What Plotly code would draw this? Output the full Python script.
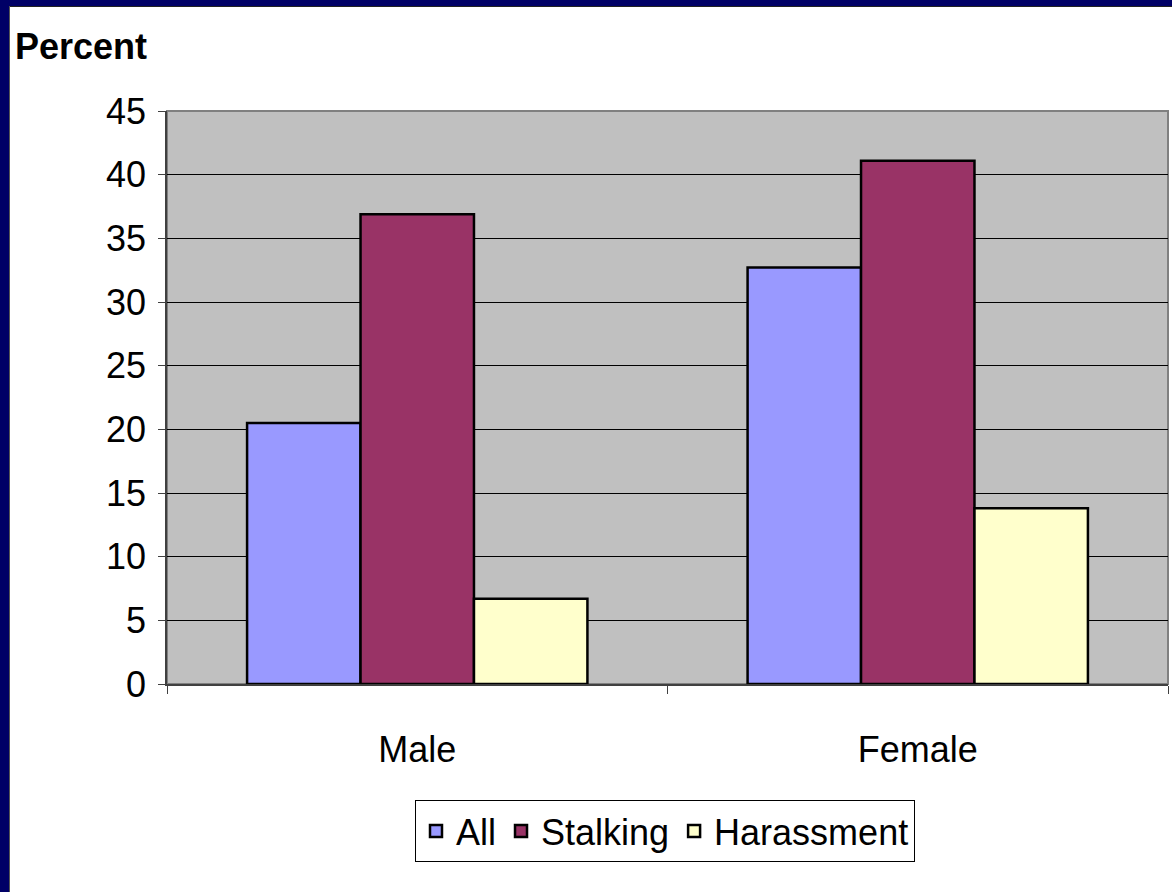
import plotly.graph_objects as go

categories = ["Male", "Female"]
series_names = ["All", "Stalking", "Harassment"]
all_vals = [20.5, 32.7]
stalking_vals = [36.9, 41.1]
harassment_vals = [6.7, 13.8]
colors = ["#9999FF", "#993366", "#FFFFCC"]
y_ticks = [0, 5, 10, 15, 20, 25, 30, 35, 40, 45]

W, H = 1172, 892
L, R, T, B = 167, 4, 111, 208
pw = W - L - R
ph = H - T - B

FONT = "Liberation Sans, Arial, sans-serif"

fig = go.Figure()
for name, vals, col in zip(series_names, [all_vals, stalking_vals, harassment_vals], colors):
    fig.add_trace(go.Bar(
        x=categories, y=vals, name=name,
        marker=dict(color=col, line=dict(color="black", width=2.5)),
    ))

def px_x(p):
    return (p - L) / pw

def px_y(p):
    return (H - B - p) / ph

shapes = [
    # navy slide border (top and left)
    dict(type="rect", xref="paper", yref="paper", x0=px_x(0), x1=px_x(W), y0=px_y(6), y1=px_y(0),
         fillcolor="#000066", line=dict(width=0), layer="above"),
    dict(type="rect", xref="paper", yref="paper", x0=px_x(0), x1=px_x(9), y0=px_y(H), y1=px_y(0),
         fillcolor="#000066", line=dict(width=0), layer="above"),
    dict(type="line", xref="paper", yref="paper", x0=px_x(9), x1=px_x(W), y0=px_y(6.5), y1=px_y(6.5),
         line=dict(color="#222222", width=1), layer="above"),
    dict(type="line", xref="paper", yref="paper", x0=px_x(9.5), x1=px_x(9.5), y0=px_y(H), y1=px_y(6),
         line=dict(color="#555555", width=1), layer="above"),
    # plot area border
    dict(type="rect", xref="paper", yref="paper", x0=0, x1=1, y0=0, y1=1,
         line=dict(color="#808080", width=2), layer="below"),
]

fig.update_layout(
    width=W, height=H,
    margin=dict(l=L, r=R, t=T, b=B, pad=0),
    paper_bgcolor="white",
    plot_bgcolor="#C0C0C0",
    barmode="group",
    bargap=0.32,
    bargroupgap=0,
    font=dict(family=FONT, size=36, color="black"),
    shapes=shapes,
    legend=dict(
        orientation="h",
        x=0.4975, xanchor="center",
        y=px_y(800), yanchor="top",
        bgcolor="white",
        bordercolor="black", borderwidth=1,
        font=dict(family=FONT, size=36, color="black"),
        itemwidth=30,
        tracegroupgap=0,
    ),
    annotations=[
        dict(text="<b>Percent</b>", xref="paper", yref="paper", x=px_x(13), y=px_y(47),
             xanchor="left", yanchor="middle", showarrow=False,
             font=dict(family=FONT, size=36, color="black")),
    ],
)

fig.update_xaxes(
    type="category",
    range=[-0.5, 1.5],
    showline=True, linecolor="#404040", linewidth=1.5,
    ticks="outside", tickson="boundaries", ticklen=8, tickcolor="#404040", tickwidth=1,
    ticklabelstandoff=33,
    tickfont=dict(family=FONT, size=36, color="black"),
    showgrid=False,
)
fig.update_yaxes(
    range=[0, 45],
    tickvals=y_ticks,
    showline=True, linecolor="#404040", linewidth=1.5,
    ticks="outside", ticklen=7, tickcolor="#404040", tickwidth=1,
    ticklabelstandoff=5,
    showgrid=True, gridcolor="black", gridwidth=1,
    zeroline=False,
    tickfont=dict(family=FONT, size=36, color="black"),
)

fig.write_html(
    "out.html",
    config={"displayModeBar": False},
    post_script="document.body.style.margin='0';document.body.style.overflow='hidden';",
)
